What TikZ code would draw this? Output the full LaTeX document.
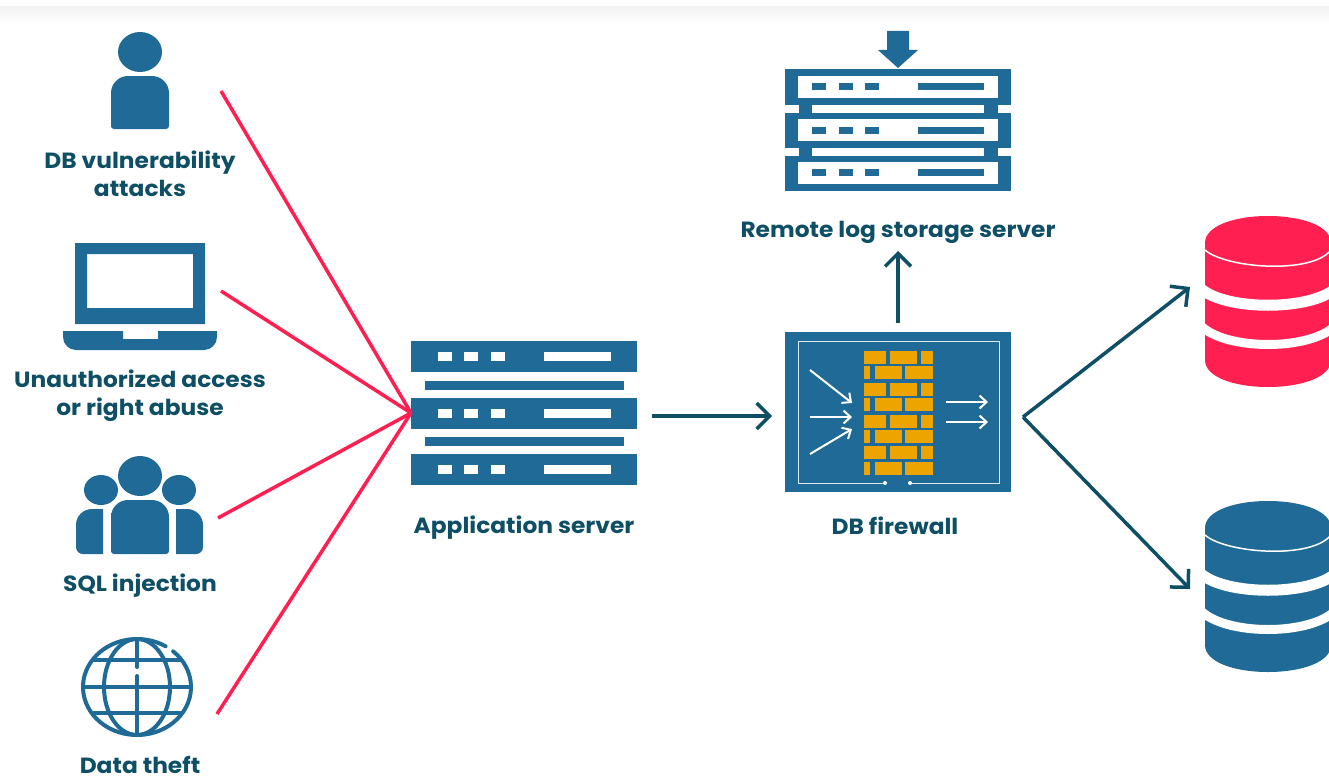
\documentclass[tikz,border=0pt]{standalone}
\usepackage{fontspec}
\usetikzlibrary{arrows.meta}
\newfontfamily\labelfont{Poppins}[FakeStretch=1.06]
\definecolor{iconblue}{HTML}{1F6A96}
\definecolor{darkteal}{HTML}{0E4F66}
\definecolor{attackred}{HTML}{FF1F50}
\definecolor{brick}{HTML}{EDA300}
\tikzset{
  iconlabel/.style={text=darkteal, font=\labelfont\bfseries\fontsize{22}{28}\selectfont, align=center, inner sep=0pt},
  attackline/.style={draw=attackred, line width=3.5pt},
  flowarrow/.style={draw=darkteal, line width=3.5pt, -{Straight Barb[length=13pt,width=26pt,line width=3.5pt]}},
  whitearrow/.style={draw=white, line width=2pt, -{Straight Barb[length=7pt,width=13pt,line width=2pt]}},
  globeline/.style={draw=iconblue, line width=4pt, line cap=round},
  iconbox/.style={shape=rectangle, inner sep=0pt, outer sep=0pt}
}
% one database stack, #1 colour, #2 vertical offset
\newcommand{\dbstack}[2]{
\fill[#1] (1205,{243+#2}) .. controls (1205,{226+#2}) and (1234,{216+#2}) .. (1268,{216+#2}) .. controls (1302,{216+#2}) and (1331,{226+#2}) .. (1331,{243+#2}) -- (1331,{360+#2}) .. controls (1331,{377+#2}) and (1302,{387+#2}) .. (1268,{387+#2}) .. controls (1234,{387+#2}) and (1205,{377+#2}) .. (1205,{360+#2}) -- cycle;
\draw[white, line width=1.5pt] (1205,{250+#2}) .. controls (1225,{268+#2}) and (1311,{275+#2}) .. (1331,{250+#2});
\draw[white, line width=11pt] (1200,{288+#2}) .. controls (1225,{311+#2}) and (1311,{311+#2}) .. (1336,{288+#2});
\draw[white, line width=9pt] (1200,{325+#2}) .. controls (1225,{351+#2}) and (1311,{351+#2}) .. (1336,{325+#2});
}
\begin{document}
\begin{tikzpicture}[x=1pt, y=-1pt]
\useasboundingbox (0,0) rectangle (1329,776);
\clip (0,0) rectangle (1329,776);
\shade[top color=black!5, bottom color=white] (0,7) rectangle (1329,24);

% user icon
\fill[iconblue] (140,52) ellipse [x radius=22, y radius=20];
\fill[iconblue, rounded corners=3pt] (111,110) -- (111,129) -- (169,129) [rounded corners=17pt] -- (169,76) -- (111,76) -- cycle;
\node[iconlabel] (vulnlabel) at (140,174) {DB vulnerability\\attacks};
% laptop icon
\fill[iconblue, even odd rule] (75,243) rectangle (205,324) (87,254) rectangle (193,308);
\fill[iconblue] (63,331) [rounded corners=13pt] -- (63,350) -- (217,350) [sharp corners] -- (217,331) -- (158,331) -- (158,339) -- (123,339) -- (123,331) -- cycle;
\node[iconlabel] (abuselabel) at (140,396) {Unauthorized access\\or right abuse};
% group icon
\fill[iconblue] (140,476) ellipse [x radius=22, y radius=20];
\fill[iconblue] (101,490) ellipse [x radius=17, y radius=15];
\fill[iconblue] (179,490) ellipse [x radius=17, y radius=15];
\fill[iconblue, rounded corners=3pt] (111,530) -- (111,554) -- (169,554) [rounded corners=17pt] -- (169,500) -- (111,500) -- cycle;
\fill[iconblue] (103,554) [rounded corners=7pt] -- (76,554) [rounded corners=16pt] -- (76,509) [sharp corners] -- (103,509) -- cycle;
\fill[iconblue] (176,554) [rounded corners=7pt] -- (203,554) [rounded corners=16pt] -- (203,509) [sharp corners] -- (176,509) -- cycle;
\node[iconlabel] (sqllabel) at (140,586) {SQL injection};
% globe icon
\draw[globeline] (137,687) ++(-48:54 and 48) arc [start angle=-48, end angle=302, x radius=54, y radius=48];
\draw[globeline] (137,687) ellipse [x radius=33, y radius=48];
\draw[globeline] (83,687) -- (191,687) (94,660) -- (180,660) (94,713) -- (180,713);
\draw[globeline] (137,639) -- (137,667) (137,676) -- (137,735);
\node[iconlabel] (theftlabel) at (140,765) {Data theft};

% application server
\node[iconbox, minimum width=226pt, minimum height=144pt] (appserver) at (524,413) {};
\foreach \rowtop/\rowbot in {341/372, 398/429, 454/485}
  \fill[iconblue] (411,\rowtop) rectangle (637,\rowbot);
\foreach \bartop in {381, 437}
  \fill[iconblue] (425,\bartop) rectangle (624,\bartop+9);
\foreach \ledy in {352, 409, 465} {
  \foreach \ledx in {438, 464, 491}
    \fill[white] (\ledx,\ledy) rectangle (\ledx+14,\ledy+9);
  \fill[white] (544,\ledy) rectangle (611,\ledy+9);
}
\node[iconlabel] (applabel) at (524,528) {Application server};

% log storage server
\fill[iconblue] (887,31) -- (909,31) -- (909,50) -- (918,50) -- (898,68) -- (878,50) -- (887,50) -- cycle;
\node[iconbox, minimum width=226pt, minimum height=122pt] (logserver) at (898,130) {};
\fill[iconblue] (799,100) rectangle (998,160);
\foreach \rowtop/\rowbot in {69/105, 113/148, 156/191}
  \fill[iconblue] (785,\rowtop) rectangle (1011,\rowbot);
\foreach \rowtop/\rowbot in {76/98, 119/141, 162/184}
  \fill[white] (798,\rowtop) rectangle (998,\rowbot);
\foreach \bartop/\barbot in {105/113, 148/156}
  \fill[white] (812,\bartop) rectangle (984,\barbot);
\foreach \ledy in {83, 127, 169} {
  \foreach \ledx in {812, 839, 865}
    \fill[iconblue] (\ledx,\ledy) rectangle (\ledx+14,\ledy+7);
  \fill[iconblue] (918,\ledy) rectangle (984,\ledy+7);
}
\node[iconlabel] (loglabel) at (898,232) {Remote log storage server};

% firewall
\node[iconbox, fill=iconblue, minimum width=226pt, minimum height=160pt] (firewall) at (898,412) {};
\draw[white!85!iconblue, line width=1pt] (885,483) -- (798,483) -- (798,341) -- (999,341) -- (999,483) -- (910,483);
\fill[white] (885,483) circle (2);
\fill[white] (910,483) circle (2);
\foreach \rowy in {351, 383, 414.5, 446} {
  \fill[brick] (864,\rowy) rectangle (886,\rowy+13);
  \fill[brick] (890,\rowy) rectangle (917,\rowy+13);
  \fill[brick] (921,\rowy) rectangle (933,\rowy+13);
}
\foreach \rowy in {366, 398, 430, 462} {
  \fill[brick] (864,\rowy) rectangle (870,\rowy+13);
  \fill[brick] (875,\rowy) rectangle (902,\rowy+13);
  \fill[brick] (905,\rowy) rectangle (933,\rowy+13);
}
\coordinate (wallin1) at (810,370);
\coordinate (wallin2) at (810,417);
\coordinate (wallin3) at (810,454);
\coordinate (wallhit1) at (852,403);
\coordinate (wallhit2) at (852,417);
\coordinate (wallhit3) at (852,429);
\coordinate (wallout1) at (946,402);
\coordinate (wallout2) at (946,422);
\coordinate (wallend1) at (988,402);
\coordinate (wallend2) at (988,422);
\draw[whitearrow] (wallin1) -- (wallhit1);
\draw[whitearrow] (wallin2) -- (wallhit2);
\draw[whitearrow] (wallin3) -- (wallhit3);
\draw[whitearrow] (wallout1) -- (wallend1);
\draw[whitearrow] (wallout2) -- (wallend2);
\node[iconlabel] (fwlabel) at (895,526) {DB firewall};

% databases
\dbstack{attackred}{0}
\dbstack{iconblue}{285}
\coordinate (dbredin) at (1190,287);
\coordinate (dbbluein) at (1190,589);
\coordinate (fwsplit) at (1023,417);

% attack lines
\coordinate (user) at (221,91);
\coordinate (laptop) at (221,291);
\coordinate (group) at (218,518);
\coordinate (globe) at (217,714);
\draw[attackline] (user) -- (appserver.west);
\draw[attackline] (laptop) -- (appserver.west);
\draw[attackline] (group) -- (appserver.west);
\draw[attackline] (globe) -- (appserver.west);

% flow arrows
\coordinate (appout) at (652,416);
\coordinate (fwin) at (772,416);
\draw[flowarrow] (appout) -- (fwin);
\coordinate (fwtop) at (898,323);
\coordinate (logout) at (898,251);
\draw[flowarrow] (fwtop) -- (logout);
\draw[flowarrow] (fwsplit) -- (dbredin);
\draw[flowarrow] (fwsplit) -- (dbbluein);
\end{tikzpicture}
\end{document}
